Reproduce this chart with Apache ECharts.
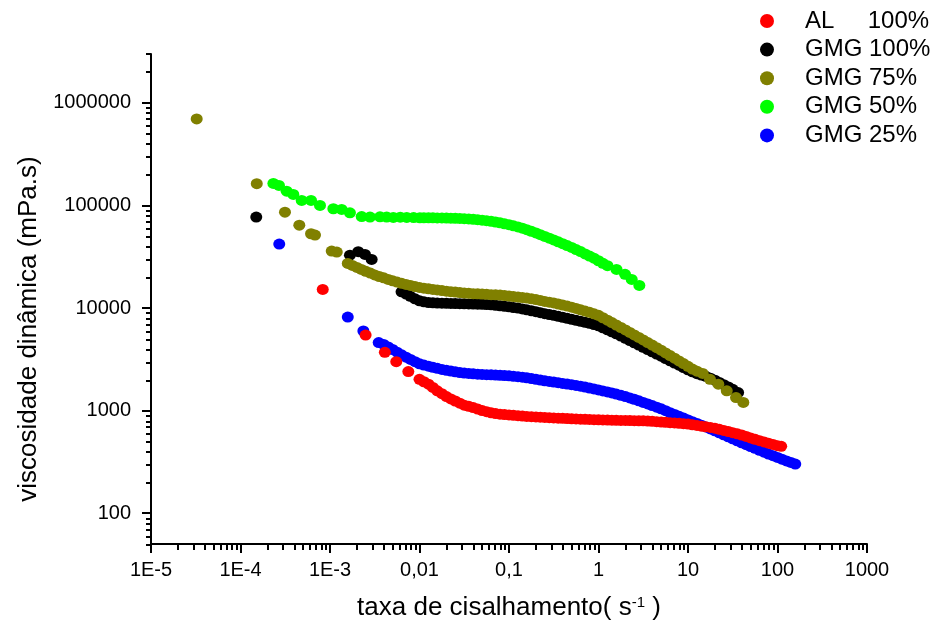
<!DOCTYPE html>
<html lang="pt">
<head>
<meta charset="UTF-8">
<title>Viscosidade dinâmica</title>
<script src="https://cdn.jsdelivr.net/npm/echarts@6.0.0/dist/echarts.min.js"></script>
<style>
  html, body { margin: 0; padding: 0; background: #fff; }
  #chart { width: 946px; height: 626px; }
</style>
</head>
<body>
<div id="chart"></div>
<script>
// tick values and labels
var xMajor = [1e-5, 1e-4, 1e-3, 0.01, 0.1, 1, 10, 100, 1000];
var xTickLabels = ['1E-5', '1E-4', '1E-3', '0,01', '0,1', '1', '10', '100', '1000'];
var yMajor = [100, 1000, 10000, 100000, 1000000];
var yTickLabels = ['100', '1000', '10000', '100000', '1000000'];

// [taxa de cisalhamento, viscosidade]
var al100 = [
  [0.00083, 15200], [0.0025, 5450], [0.0041, 3700], [0.0055, 3000], [0.0075, 2400],
  [0.01, 2020], [0.0112, 1910], [0.0126, 1810], [0.0141, 1680], [0.0158, 1560], [0.0178, 1460],
  [0.02, 1370], [0.0224, 1300], [0.0251, 1240], [0.0282, 1180], [0.0316, 1130], [0.0355, 1100],
  [0.0398, 1070], [0.0447, 1035], [0.0501, 1000], [0.0562, 975], [0.0631, 950], [0.0708, 935],
  [0.0794, 923], [0.0891, 914],
  [0.1, 906], [0.112, 899], [0.126, 892], [0.141, 884], [0.158, 877], [0.178, 872],
  [0.2, 867], [0.224, 862], [0.251, 857], [0.282, 852], [0.316, 848], [0.355, 844],
  [0.398, 840], [0.447, 836], [0.501, 832], [0.562, 828], [0.631, 824], [0.708, 821],
  [0.794, 819], [0.891, 816],
  [1, 813], [1.12, 810], [1.26, 808], [1.41, 806], [1.58, 804], [1.78, 802],
  [2, 801], [2.24, 799], [2.51, 798], [2.82, 796], [3.16, 794], [3.55, 790],
  [3.98, 785], [4.47, 780], [5.01, 774], [5.62, 768], [6.31, 762], [7.08, 757],
  [7.94, 752], [8.91, 745],
  [10, 738], [11.2, 727], [12.6, 716], [14.1, 705], [15.8, 695], [17.8, 685],
  [20, 674], [22.4, 657], [25.1, 641], [28.2, 625], [31.6, 609], [35.5, 594],
  [39.8, 578], [44.7, 559], [50.1, 541], [56.2, 525], [63.1, 509], [70.8, 495],
  [79.4, 481], [89.1, 468], [100, 455], [110, 448]
];
var gmg100 = [
  [0.00015, 77000],
  [0.00167, 32800], [0.00207, 35400], [0.00246, 33300], [0.00292, 29800],
  [0.0063, 14400], [0.0071, 13700], [0.0079, 13000], [0.0089, 12300],
  [0.01, 11750], [0.0112, 11500], [0.0126, 11300], [0.0141, 11230], [0.0158, 11170], [0.0178, 11140],
  [0.02, 11120], [0.0224, 11100], [0.0251, 11070], [0.0282, 11030], [0.0316, 11000], [0.0355, 10960],
  [0.0398, 10920], [0.0447, 10900], [0.0501, 10870], [0.0562, 10810], [0.0631, 10750], [0.0708, 10630],
  [0.0794, 10500], [0.0891, 10390],
  [0.1, 10270], [0.112, 10120], [0.126, 9980], [0.141, 9790], [0.158, 9600], [0.178, 9410],
  [0.2, 9220], [0.224, 9010], [0.251, 8810], [0.282, 8650], [0.316, 8490], [0.355, 8300],
  [0.398, 8110], [0.447, 7930], [0.501, 7760], [0.562, 7590], [0.631, 7420], [0.708, 7260],
  [0.794, 7100], [0.891, 6900],
  [1, 6710], [1.12, 6420], [1.26, 6140], [1.41, 5870], [1.58, 5610], [1.78, 5330],
  [2, 5070], [2.24, 4820], [2.51, 4580], [2.82, 4360], [3.16, 4140], [3.55, 3940],
  [3.98, 3740], [4.47, 3560], [5.01, 3390], [5.62, 3220], [6.31, 3060], [7.08, 2910],
  [7.94, 2770], [8.91, 2630],
  [10, 2500], [11.2, 2390], [12.6, 2290], [14.1, 2220], [15.8, 2160], [17.8, 2070],
  [20, 1980], [22.4, 1880], [25.1, 1790], [28.2, 1700], [31.6, 1610], [36.3, 1500]
];
var gmg75 = [
  [3.24e-5, 698000], [1.52e-4, 163000], [3.14e-4, 86000], [4.54e-4, 64300],
  [6.14e-4, 53000], [6.8e-4, 51400], [1.045e-3, 35900], [1.19e-3, 35100],
  [0.00158, 27200], [0.00178, 26000], [0.002, 24900], [0.00224, 23800], [0.00251, 22800],
  [0.00282, 21900], [0.00316, 21000], [0.00355, 20300], [0.00398, 19700], [0.00447, 19000],
  [0.00501, 18400], [0.00562, 17900], [0.00631, 17400], [0.00708, 17000], [0.00794, 16600],
  [0.00891, 16200],
  [0.01, 15900], [0.0112, 15600], [0.0126, 15400], [0.0141, 15200], [0.0158, 15000], [0.0178, 14800],
  [0.02, 14600], [0.0224, 14450], [0.0251, 14300], [0.0282, 14150], [0.0316, 14000], [0.0355, 13900],
  [0.0398, 13800], [0.0447, 13750], [0.0501, 13700], [0.0562, 13600], [0.0631, 13500], [0.0708, 13450],
  [0.0794, 13400], [0.0891, 13250],
  [0.1, 13100], [0.112, 12950], [0.126, 12800], [0.141, 12650], [0.158, 12500], [0.178, 12300],
  [0.2, 12100], [0.224, 11850], [0.251, 11600], [0.282, 11400], [0.316, 11200], [0.355, 10950],
  [0.398, 10700], [0.447, 10450], [0.501, 10200], [0.562, 9900], [0.631, 9600], [0.708, 9340],
  [0.794, 9080], [0.891, 8780],
  [1, 8490], [1.12, 8040], [1.26, 7620], [1.41, 7210], [1.58, 6830], [1.78, 6460],
  [2, 6120], [2.24, 5780], [2.51, 5470], [2.82, 5170], [3.16, 4880], [3.55, 4610],
  [3.98, 4350], [4.47, 4110], [5.01, 3880], [5.62, 3650], [6.31, 3440], [7.08, 3240],
  [7.94, 3050], [8.91, 2870],
  [10, 2700], [11.2, 2540], [12.6, 2420], [14.6, 2300], [17.6, 2020], [21.8, 1810],
  [27.1, 1560], [34.4, 1340], [41.5, 1200]
];
var gmg50 = [
  [2.33e-4, 164000], [2.69e-4, 157000], [3.28e-4, 138000], [3.89e-4, 128000], [4.83e-4, 112000],
  [6.14e-4, 112000], [7.73e-4, 100000], [1.09e-3, 92900], [1.35e-3, 91400], [1.67e-3, 84900],
  [2.26e-3, 78000], [2.8e-3, 77000], [3.62e-3, 77500], [4.3e-3, 77000], [5.1e-3, 76500],
  [6.1e-3, 76800], [7.2e-3, 76500], [8.6e-3, 76200],
  [0.0101, 75900], [0.0112, 75900], [0.0126, 75900], [0.0141, 75800], [0.0158, 75700], [0.0178, 75600],
  [0.02, 75400], [0.0224, 75200], [0.0251, 75000], [0.0282, 74700], [0.0316, 74300], [0.0355, 73900],
  [0.0398, 73400], [0.0447, 72700], [0.0501, 71900], [0.0562, 71100], [0.0631, 70200], [0.0708, 69000],
  [0.0794, 67700], [0.0891, 66300],
  [0.1, 64900], [0.112, 63400], [0.126, 61800], [0.141, 60000], [0.158, 58100], [0.178, 56000],
  [0.2, 54000], [0.224, 51900], [0.251, 49900], [0.282, 48000], [0.316, 46100], [0.355, 44200],
  [0.398, 42400], [0.447, 40700], [0.501, 39000], [0.562, 37200], [0.631, 35500], [0.708, 33700],
  [0.794, 32100], [0.891, 30600],
  [1, 28900], [1.12, 27300], [1.26, 25900], [1.59, 23800], [1.98, 21300], [2.35, 19000], [2.86, 16600]
];
var gmg25 = [
  [2.71e-4, 42000], [1.58e-3, 8170], [2.36e-3, 5970],
  [0.0035, 4600], [0.00398, 4420], [0.00447, 4170], [0.00501, 3940], [0.00562, 3710],
  [0.00631, 3500], [0.00708, 3320], [0.00794, 3150], [0.00891, 3000],
  [0.01, 2860], [0.0112, 2780], [0.0126, 2710], [0.0141, 2640], [0.0158, 2580], [0.0178, 2520],
  [0.02, 2470], [0.0224, 2430], [0.0251, 2390], [0.0282, 2350], [0.0316, 2320], [0.0355, 2300],
  [0.0398, 2280], [0.0447, 2265], [0.0501, 2250], [0.0562, 2240], [0.0631, 2230], [0.0708, 2220],
  [0.0794, 2210], [0.0891, 2195],
  [0.1, 2180], [0.112, 2160], [0.126, 2140], [0.141, 2115], [0.158, 2090], [0.178, 2055],
  [0.2, 2020], [0.224, 1985], [0.251, 1950], [0.282, 1925], [0.316, 1900], [0.355, 1870],
  [0.398, 1840], [0.447, 1815], [0.501, 1790], [0.562, 1760], [0.631, 1730], [0.708, 1695],
  [0.794, 1660], [0.891, 1625],
  [1, 1590], [1.12, 1555], [1.26, 1520], [1.41, 1485], [1.58, 1450], [1.78, 1410],
  [2, 1370], [2.24, 1330], [2.51, 1290], [2.82, 1245], [3.16, 1200], [3.55, 1160],
  [3.98, 1120], [4.47, 1080], [5.01, 1040], [5.62, 997], [6.31, 955], [7.08, 917],
  [7.94, 880], [8.91, 845],
  [10, 811], [11.2, 779], [12.6, 748], [14.1, 720], [15.8, 692], [17.8, 663],
  [20, 634], [22.4, 607], [25.1, 580], [28.2, 555], [31.6, 530], [35.5, 507],
  [39.8, 485], [44.7, 465], [50.1, 446], [56.2, 428], [63.1, 410], [70.8, 393],
  [79.4, 377], [89.1, 363], [100, 349], [112, 336], [126, 323], [141, 312], [158, 301]
];

var legendNames = ['AL     100%', 'GMG 100%', 'GMG 75%', 'GMG 50%', 'GMG 25%'];

var FONT = '"Liberation Sans", Arial, sans-serif';
var DOT = 'path://M0,10A10,10,0,1,1,20,10A10,10,0,1,1,0,10Z';
var xMin = 1e-5, xMax = 1000, yMin = 50, yMax = 3e6;
var box = { left: 151, right: 79, top: 54, bottom: 81 };

// 2..9 x 10^e ticks between the decades
function minorTicks(eFrom, eTo, lo, hi) {
    var out = [];
    for (var e = eFrom; e <= eTo; e++) {
        for (var k = 2; k <= 9; k++) {
            var v = k * Math.pow(10, e);
            if (v >= lo && v <= hi) out.push(v);
        }
    }
    return out;
}

function labelFor(values, labels) {
    return function (v) {
        for (var i = 0; i < values.length; i++) {
            if (Math.abs(Math.log10(v) - Math.log10(values[i])) < 1e-6) return labels[i];
        }
        return '';
    };
}

function dots(name, data, color) {
    return {
        type: 'scatter',
        name: name,
        data: data,
        xAxisIndex: 0,
        yAxisIndex: 0,
        symbol: DOT,
        symbolSize: [12, 11],
        itemStyle: { color: color, opacity: 1 },
        emphasis: { disabled: true }
    };
}

var chart = echarts.init(document.getElementById('chart'));
chart.setOption({
    animation: false,
    backgroundColor: '#fff',
    grid: [
        { left: box.left, right: box.right, top: box.top, bottom: box.bottom },
        { left: box.left, right: box.right, top: box.top, bottom: box.bottom }
    ],
    legend: {
        data: legendNames,
        orient: 'vertical',
        left: 760,
        top: 9,
        padding: 0,
        icon: 'circle',
        itemWidth: 66,
        itemHeight: 14,
        itemGap: 4.6,
        selectedMode: false,
        textStyle: { fontSize: 24, lineHeight: 24, color: '#000', fontFamily: FONT }
    },
    xAxis: [{
        type: 'log',
        gridIndex: 0,
        min: xMin,
        max: xMax,
        name: 'taxa de cisalhamento( s{sup|-1} )',
        nameLocation: 'middle',
        nameGap: 51,
        nameTextStyle: {
            fontSize: 26, color: '#000', fontFamily: FONT,
            rich: { sup: { fontSize: 15, verticalAlign: 'top', color: '#000', fontFamily: FONT } }
        },
        axisLine: { lineStyle: { color: '#000', width: 2 } },
        axisTick: { customValues: xMajor, length: 9, lineStyle: { color: '#000', width: 2 } },
        axisLabel: {
            customValues: xMajor, formatter: labelFor(xMajor, xTickLabels),
            margin: 16, fontSize: 20, color: '#000', fontFamily: FONT
        },
        splitLine: { show: false }
    }, {
        type: 'log',
        gridIndex: 1,
        min: xMin,
        max: xMax,
        axisLine: { show: false },
        axisTick: { customValues: minorTicks(-5, 2, xMin, xMax), length: 5, lineStyle: { color: '#000', width: 2 } },
        axisLabel: { show: false },
        splitLine: { show: false }
    }],
    yAxis: [{
        type: 'log',
        gridIndex: 0,
        min: yMin,
        max: yMax,
        name: 'viscosidade dinâmica (mPa.s)',
        nameLocation: 'middle',
        nameGap: 104,
        nameTextStyle: { fontSize: 26, color: '#000', fontFamily: FONT, padding: [0, 60, 0, 0] },
        axisLine: { lineStyle: { color: '#000', width: 2 } },
        axisTick: { customValues: yMajor, length: 9, lineStyle: { color: '#000', width: 2 } },
        axisLabel: {
            customValues: yMajor, formatter: labelFor(yMajor, yTickLabels),
            margin: 20, fontSize: 20, color: '#000', fontFamily: FONT
        },
        splitLine: { show: false }
    }, {
        type: 'log',
        gridIndex: 1,
        min: yMin,
        max: yMax,
        axisLine: { show: false },
        axisTick: { customValues: minorTicks(1, 6, yMin, yMax), length: 5, lineStyle: { color: '#000', width: 2 } },
        axisLabel: { show: false },
        splitLine: { show: false }
    }],
    // drawing order: later series sit on top
    series: [
        dots(legendNames[4], gmg25, '#0000ff'),
        dots(legendNames[1], gmg100, '#000000'),
        dots(legendNames[3], gmg50, '#00ff00'),
        dots(legendNames[2], gmg75, '#808000'),
        dots(legendNames[0], al100, '#ff0000')
    ]
});
window.onresize = chart.resize;
</script>
</body>
</html>
